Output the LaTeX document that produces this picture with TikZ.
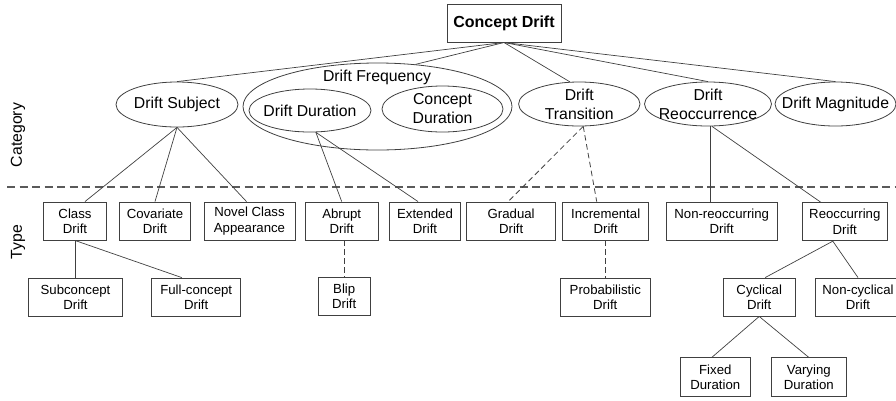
\documentclass[tikz,border=0pt]{standalone}
\usepackage{fontspec}
\setmainfont{Liberation Sans}
\usetikzlibrary{shapes.geometric}
\definecolor{ln}{HTML}{404040}
\definecolor{dv}{HTML}{5A5A5A}
\tikzset{
  catell/.style={ellipse, draw=ln, line width=0.8pt, inner xsep=-30pt, inner ysep=-15pt, align=center, font=\fontsize{15.8}{19}\selectfont},
  typebox/.style={rectangle, draw=ln, line width=0.9pt, inner sep=0pt, align=center, minimum height=38pt, font=\fontsize{13.2}{15.3}\selectfont},
  conn/.style={draw=ln, line width=0.7pt},
  dconn/.style={draw=ln, line width=0.8pt, dash pattern=on 5.5pt off 3.5pt},
  divider/.style={draw=dv, line width=1.3pt, dash pattern=on 8pt off 4.5pt},
  side/.style={rotate=90, font=\fontsize{15.8}{19}\selectfont}
}
\begin{document}
\begin{tikzpicture}[x=1pt,y=-1pt]
\useasboundingbox (0,0) rectangle (896,400);
% root
\node[rectangle, draw=ln, line width=1pt, minimum width=114pt, minimum height=38pt, inner sep=0pt, font=\fontsize{16}{19}\selectfont\bfseries] (top) at (504,23) {Concept Drift};
% categories
\node[catell, minimum width=122pt, minimum height=45pt] (subj) at (177,104.5) {Drift Subject};
\node[catell, minimum width=269pt, minimum height=87pt] (freq) at (377.5,106.5) {};
\node[font=\fontsize{15.8}{19}\selectfont] (freqlbl) at (377,77) {Drift Frequency};
\node[catell, minimum width=122pt, minimum height=43pt] (dur) at (310,110.5) {Drift Duration};
\node[catell, minimum width=121pt, minimum height=46pt] (cdur) at (442.5,109) {Concept\\Duration};
\node[catell, minimum width=121.4pt, minimum height=44pt] (trans) at (579.3,104) {Drift\\Transition};
\node[catell, minimum width=127pt, minimum height=44pt] (reoc) at (708,104) {Drift\\Reoccurrence};
\node[catell, minimum width=121pt, minimum height=44pt] (mag) at (835.5,104) {Drift Magnitude};
% side labels and divider
\node[side] (cat) at (18,135) {Category};
\node[side] (typ) at (18,242) {Type};
\coordinate (dl) at (7,187);
\coordinate (dr) at (896,187);
\draw[divider] (dl) -- (dr);
% row 1
\node[typebox, minimum width=63.4pt] (class) at (75,221) {Class\\Drift};
\node[typebox, minimum width=71.4pt] (cov) at (155,221) {Covariate\\Drift};
\node[typebox, minimum width=91pt] (novel) at (249.5,221) {Novel Class\\Appearance};
\node[typebox, minimum width=73.3pt] (abrupt) at (341.7,221) {Abrupt\\Drift};
\node[typebox, minimum width=71.4pt] (ext) at (425,221) {Extended\\Drift};
\node[typebox, minimum width=89pt] (grad) at (511.2,221) {Gradual\\Drift};
\node[typebox, minimum width=86pt] (incr) at (605.7,221) {Incremental\\Drift};
\node[typebox, minimum width=111.3pt] (nonre) at (721.7,221) {Non-reoccurring\\Drift};
\node[typebox, minimum width=85pt] (reobox) at (844.8,221.7) {Reoccurring\\Drift};
% row 2
\node[typebox, minimum width=93.6pt] (sub) at (75.5,297) {Subconcept\\Drift};
\node[typebox, minimum width=89pt] (full) at (196.2,297) {Full-concept\\Drift};
\node[typebox, minimum width=51.7pt] (blip) at (344.2,296.2) {Blip\\Drift};
\node[typebox, minimum width=89.3pt] (prob) at (605.3,297) {Probabilistic\\Drift};
\node[typebox, minimum width=71.7pt] (cyc) at (759.2,297) {Cyclical\\Drift};
\node[typebox, minimum width=84.6pt] (noncyc) at (858,297) {Non-cyclical\\Drift};
% row 3
\node[typebox, minimum width=69.3pt, minimum height=38.3pt] (fixed) at (715.3,377) {Fixed\\Duration};
\node[typebox, minimum width=74.3pt, minimum height=38.3pt] (vary) at (808.8,377) {Varying\\Duration};
% connectors: root to categories
\draw[conn] (top.south) -- (subj.north);
\draw[conn] (top.south) -- (freq.48);
\draw[conn] (top.south) -- (trans.113);
\draw[conn] (top.south) -- (reoc.north);
\draw[conn] (top.south) -- (mag.north);
% categories to types
\draw[conn] (subj.south) -- ([xshift=10pt]class.north);
\draw[conn] (subj.south) -- (cov.north);
\draw[conn] (subj.south) -- ([xshift=-3pt]novel.north);
\draw[conn] (dur.-75) -- (abrupt.north);
\draw[conn] (dur.-75) -- ([xshift=-7pt]ext.north);
\draw[dconn] (trans.-80) -- ([xshift=-3pt]grad.north);
\draw[dconn] (trans.-80) -- ([xshift=-9pt]incr.north);
\draw[conn] (reoc.-84) -- (reoc.-84 |- nonre.north);
\draw[conn] (reoc.-80) -- ([xshift=-24pt]reobox.north);
% types to subtypes
\draw[conn] (class.south) -- (class.south |- sub.north);
\draw[conn] (class.south) -- ([xshift=-14.5pt]full.north);
\draw[dconn] (blip.north |- abrupt.south) -- (blip.north);
\draw[dconn] (prob.north |- incr.south) -- (prob.north);
\draw[conn] ([xshift=-12pt]reobox.south) -- ([xshift=6pt]cyc.north);
\draw[conn] ([xshift=-12pt]reobox.south) -- (noncyc.north);
\draw[conn] (cyc.south) -- ([xshift=-3.5pt]fixed.north);
\draw[conn] (cyc.south) -- (vary.north);
\end{tikzpicture}
\end{document}
